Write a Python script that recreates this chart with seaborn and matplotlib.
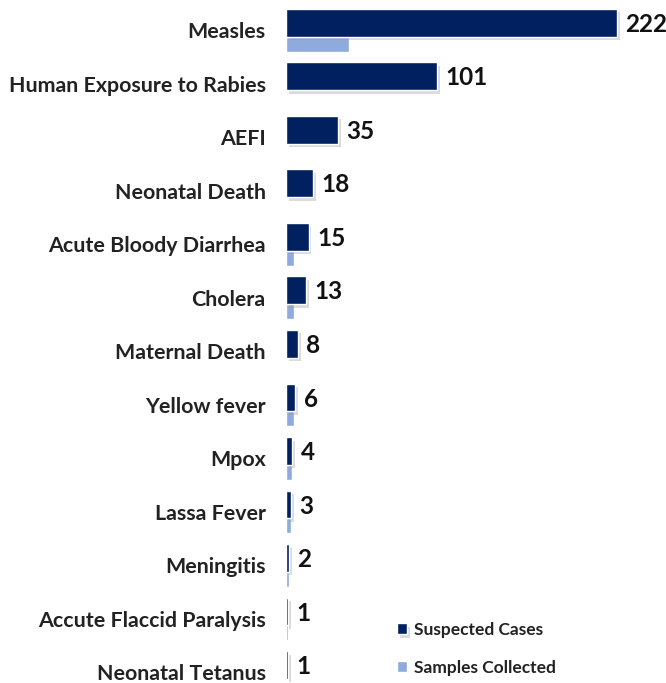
import pandas as pd
import seaborn as sb
import matplotlib.pyplot as plt
import matplotlib.patheffects as pe
import numpy as np

sb.set_theme(style="white")
plt.rcParams['font.family'] = ['Lato', 'DejaVu Sans']

diseases = ["Measles", "Human Exposure to Rabies", "AEFI", "Neonatal Death",
            "Acute Bloody Diarrhea", "Cholera", "Maternal Death", "Yellow fever",
            "Mpox", "Lassa Fever", "Meningitis", "Accute Flaccid Paralysis",
            "Neonatal Tetanus"]
suspected = [222, 101, 35, 18, 15, 13, 8, 6, 4, 3, 2, 1, 1]
samples = [42, 0, 0, 0, 5, 5, 0, 5, 4, 3, 2, 1, 0]

DARK = "#002060"
LIGHT = "#8FAADC"

pos = np.arange(len(diseases))
df = pd.DataFrame({"Disease": diseases, "pos": pos,
                   "Suspected Cases": suspected, "Samples Collected": samples})

fig = plt.figure(figsize=(6.66, 6.83), dpi=100)
ax = fig.add_axes([0.43, 0.0, 0.57, 1.0])

# light bars sit just under the dark ones
df["pos_s"] = df["pos"] + 0.265
df["pos_c"] = df["pos"] - 0.135
sb.barplot(data=df, x="Samples Collected", y="pos_s", orient="y", native_scale=True,
           color=LIGHT, width=0.28, saturation=1, ax=ax, label="Samples Collected")
sb.barplot(data=df, x="Suspected Cases", y="pos_c", orient="y", native_scale=True,
           color=DARK, width=0.52, saturation=1, ax=ax, label="Suspected Cases")

shadow = [pe.SimplePatchShadow(offset=(2, -2.5), shadow_rgbFace="#9a9a9a", alpha=0.35), pe.Normal()]
for p in ax.patches:
    if p.get_facecolor()[2] < 0.5:
        p.set_path_effects(shadow)

for y, v in zip(df["pos_c"], suspected):
    ax.text(v + 5.5, y + 0.03, str(v), va="center", ha="left", fontsize=17.5,
            fontweight="bold", color="#111111")

ax.set_xlim(0, 255)
ax.set_ylim(12.2, -0.56)
ax.set_yticks(pos)
ax.set_yticklabels(diseases, fontsize=15.4, fontweight="bold", color="#222222")
ax.tick_params(axis="y", length=0, pad=15)
ax.set_xticks([])
ax.set_xlabel("")
ax.set_ylabel("")
for s in ax.spines.values():
    s.set_visible(False)

h, l = ax.get_legend_handles_labels()
order = [l.index("Suspected Cases"), l.index("Samples Collected")]
leg = ax.legend([h[i] for i in order], [l[i] for i in order], loc="lower left",
                bbox_to_anchor=(0.25, -0.012), frameon=False, fontsize=12.5,
                labelspacing=1.25, handlelength=0.6, handleheight=0.6, handletextpad=0.4)
for t in leg.get_texts():
    t.set_fontweight("bold")
    t.set_color("#222222")

fig.savefig("out.png", dpi=100)
